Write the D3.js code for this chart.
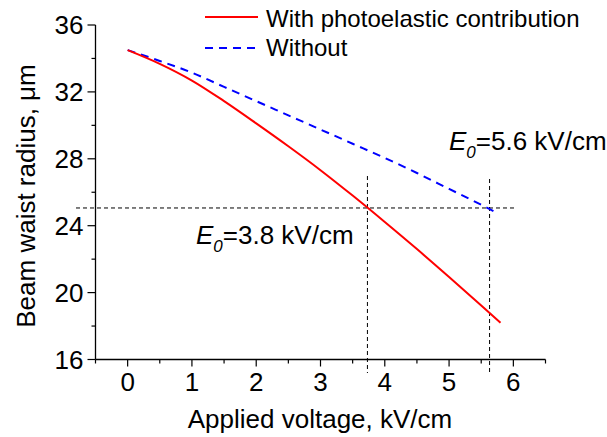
<!DOCTYPE html>
<html><head><meta charset="utf-8">
<script src="https://cdn.jsdelivr.net/npm/d3@7"></script>
<style>body{margin:0;background:#fff}svg{display:block}text{font-family:"Liberation Sans",Arial,sans-serif;fill:#000}</style>
</head><body><svg id="c" width="607" height="437"></svg>
<script>
const withX = [0,0.5,1,1.5,2,2.5,3,3.5,4,4.5,5,5.5,5.8];
const withY = [34.5,33.68,32.68,31.45,30.12,28.75,27.32,25.8,24.22,22.6,20.93,19.23,18.2];
const withoutX = [0,0.5,1,1.5,2,2.5,3,3.5,4,4.5,5,5.5,5.7];
const withoutY = [34.5,33.85,33.15,32.3,31.45,30.6,29.75,28.9,28.05,27.15,26.2,25.25,24.85];
const xTicks = [0,1,2,3,4,5,6];
const yTicks = [16,20,24,28,32,36];
const seriesNames = ["With photoelastic contribution","Without"];
const thresholdY = 25.06;
const e0With = 3.73, e0Without = 5.63;
const labels = ["3.8 kV/cm","5.6 kV/cm"];

const svg = d3.select("#c");
const x = d3.scaleLinear().domain([-0.5,6.5]).range([95.5,545.5]);
const y = d3.scaleLinear().domain([16,36]).range([359.5,25]);

// axes
const fs = 26;
const xAxis = svg.append("g").attr("transform",`translate(0,${y(16)})`);
xAxis.append("line").attr("x1",x(-0.5)).attr("x2",x(6.5)).attr("stroke","#000").attr("stroke-width",1.3);
xAxis.selectAll(".minor").data(d3.range(-0.5,6.51,0.5).filter(v=>Math.abs(v-Math.round(v))>0.1)).join("line")
  .attr("x1",d=>x(d)).attr("x2",d=>x(d)).attr("y1",0).attr("y2",4).attr("stroke","#000").attr("stroke-width",1.2);
xAxis.selectAll(".major").data(xTicks).join("line")
  .attr("x1",d=>x(d)).attr("x2",d=>x(d)).attr("y1",0).attr("y2",7).attr("stroke","#000").attr("stroke-width",1.2);
xAxis.selectAll("text").data(xTicks).join("text").attr("x",d=>x(d)).attr("y",31.5)
  .attr("text-anchor","middle").attr("font-size",fs).text(d=>d);

const yAxis = svg.append("g").attr("transform",`translate(${x(-0.5)},0)`);
yAxis.append("line").attr("y1",y(16)).attr("y2",y(36)).attr("stroke","#000").attr("stroke-width",1.3);
yAxis.selectAll(".minor").data(d3.range(18,36,4)).join("line")
  .attr("y1",d=>y(d)).attr("y2",d=>y(d)).attr("x1",0).attr("x2",-4).attr("stroke","#000").attr("stroke-width",1.2);
yAxis.selectAll(".major").data(yTicks).join("line")
  .attr("y1",d=>y(d)).attr("y2",d=>y(d)).attr("x1",0).attr("x2",-8).attr("stroke","#000").attr("stroke-width",1.2);
yAxis.selectAll("text").data(yTicks).join("text").attr("x",-12).attr("y",d=>y(d)).attr("dy","0.36em")
  .attr("text-anchor","end").attr("font-size",fs).text(d=>d);

svg.append("text").attr("x",320).attr("y",428).attr("text-anchor","middle").attr("font-size",fs)
  .text("Applied voltage, kV/cm");
svg.append("text").attr("transform","translate(35,196) rotate(-90)").attr("text-anchor","middle").attr("font-size",fs)
  .text("Beam waist radius, μm");

// reference dashed lines
const ref = svg.append("g").attr("stroke","#000").attr("stroke-width",1).attr("stroke-dasharray","4,3").attr("fill","none");
ref.append("line").attr("x1",76).attr("x2",517).attr("y1",y(thresholdY)).attr("y2",y(thresholdY));
ref.append("line").attr("x1",x(e0With)).attr("x2",x(e0With)).attr("y1",176).attr("y2",373);
ref.append("line").attr("x1",x(e0Without)).attr("x2",x(e0Without)).attr("y1",179).attr("y2",373);

// curves
const line = d3.line().x(d=>x(d[0])).y(d=>y(d[1])).curve(d3.curveMonotoneX);
svg.append("path").datum(withoutX.map((v,i)=>[v,withoutY[i]])).attr("d",line)
  .attr("fill","none").attr("stroke","#0000ff").attr("stroke-width",2).attr("stroke-dasharray","8,6");
svg.append("path").datum(withX.map((v,i)=>[v,withY[i]])).attr("d",line)
  .attr("fill","none").attr("stroke","#ff0000").attr("stroke-width",2);

// annotations
function ann(tx,ty,val){
  const t = svg.append("text").attr("x",tx).attr("y",ty).attr("font-size",fs);
  t.append("tspan").attr("font-style","italic").text("E");
  t.append("tspan").attr("font-style","italic").attr("font-size",17).attr("dy",8).text("0");
  t.append("tspan").attr("dy",-8).text("=" + val);
}
ann(196,244,labels[0]);
ann(449,150,labels[1]);

// legend
const lg = svg.append("g");
lg.append("line").attr("x1",205).attr("x2",258).attr("y1",17).attr("y2",17).attr("stroke","#ff0000").attr("stroke-width",2);
lg.append("line").attr("x1",205).attr("x2",258).attr("y1",48).attr("y2",48).attr("stroke","#0000ff").attr("stroke-width",2).attr("stroke-dasharray","8,6");
lg.append("text").attr("x",266).attr("y",26.5).attr("font-size",24).text(seriesNames[0]);
lg.append("text").attr("x",266).attr("y",56).attr("font-size",24).text(seriesNames[1]);
</script></body></html>
